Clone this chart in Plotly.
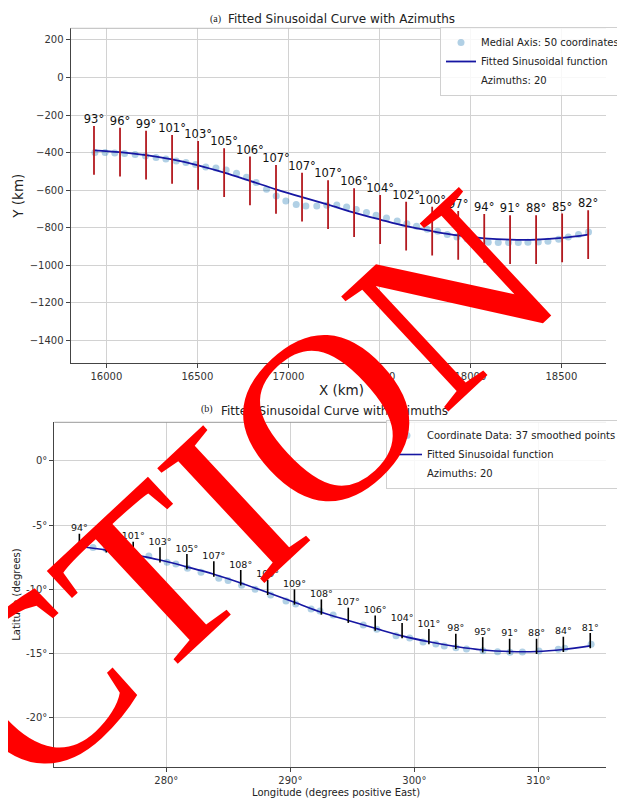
import plotly.graph_objects as go

# ---------------- Panel (a) data ----------------
top_dot_x = [15937, 15993, 16046, 16100, 16158, 16215, 16273, 16327, 16384, 16437,
             16490, 16546, 16602, 16658, 16715, 16770, 16823, 16880, 16933, 16986,
             17043, 17096, 17156, 17211, 17266, 17320, 17373, 17429, 17482, 17539,
             17598, 17651, 17704, 17763, 17820, 17873, 17926, 17982, 18041, 18098,
             18153, 18210, 18263, 18316, 18373, 18426, 18485, 18538, 18594, 18649]
top_dot_y = [-400, -400, -402, -405, -411, -418, -427, -434, -445, -453,
             -464, -477, -482, -493, -510, -532, -560, -596, -631, -658,
             -677, -685, -685, -681, -679, -690, -704, -720, -734, -749,
             -765, -779, -793, -809, -820, -837, -850, -861, -868, -878,
             -880, -880, -880, -878, -877, -873, -862, -850, -837, -823]
top_az_x = [15932, 16075, 16218, 16361, 16504, 16647, 16789, 16932, 17075, 17218,
            17361, 17504, 17647, 17790, 17933, 18076, 18218, 18361, 18504, 18647]
top_curve_y = [-388, -398, -414, -437, -468, -507, -551, -596, -638, -678,
               -720, -757, -792, -819, -842, -857, -864, -864, -855, -837]
top_az_deg = [93, 96, 99, 101, 103, 105, 106, 107, 107, 107,
              106, 104, 102, 100, 97, 94, 91, 88, 85, 82]
top_xticks = [16000, 16500, 17000, 17500, 18000, 18500]
top_xtick_text = ["16000", "16500", "17000", "17500", "18000", "18500"]
top_yticks = [-1400, -1200, -1000, -800, -600, -400, -200, 0, 200]
top_ytick_text = ["\u22121400", "\u22121200", "\u22121000", "\u2212800", "\u2212600",
                  "\u2212400", "\u2212200", "0", "200"]

# ---------------- Panel (b) data ----------------
bot_dot_lon = [272.99, 274.09, 275.17, 276.27, 277.45, 278.59, 280.06, 280.77, 281.71, 282.80,
               284.23, 284.98, 286.07, 287.16, 288.41, 289.65, 290.43, 291.67, 292.39, 293.45,
               295.88, 296.97, 298.52, 299.62, 300.70, 301.73, 302.41, 303.35, 304.20, 305.53,
               306.71, 307.71, 308.71, 310.05, 311.60, 312.13, 314.25]
bot_dot_lat = [-6.67, -6.75, -6.85, -7.01, -7.19, -7.40, -7.89, -8.02, -8.36, -8.67,
               -9.14, -9.32, -9.68, -9.99, -10.44, -10.90, -11.14, -11.53, -11.68, -11.99,
               -12.77, -13.11, -13.61, -13.79, -14.10, -14.25, -14.41, -14.54, -14.64, -14.77,
               -14.85, -14.90, -14.88, -14.80, -14.67, -14.59, -14.28]
bot_az_lon = [272.99, 275.16, 277.33, 279.49, 281.66, 283.83, 286.00, 288.17, 290.33, 292.50,
              294.67, 296.84, 299.01, 301.17, 303.34, 305.51, 307.68, 309.85, 312.01, 314.18]
bot_curve_lat = [-6.67, -6.95, -7.30, -7.72, -8.25, -8.82, -9.50, -10.25, -11.00, -11.78,
                 -12.42, -13.03, -13.62, -14.08, -14.45, -14.72, -14.84, -14.84, -14.68, -14.40]
bot_az_deg = [94, 98, 101, 103, 105, 107, 108, 109, 109, 108,
              107, 106, 104, 101, 98, 95, 91, 88, 84, 81]
bot_xticks = [280, 290, 300, 310]
bot_xtick_text = ["280\u00b0", "290\u00b0", "300\u00b0", "310\u00b0"]
bot_yticks = [-20, -15, -10, -5, 0]
bot_ytick_text = ["-20\u00b0", "-15\u00b0", "-10\u00b0", "-5\u00b0", "0\u00b0"]

# ---------------- styles ----------------
FONT = "DejaVu Sans"
DOT_COLOR = "rgba(31,119,180,0.35)"
CURVE_COLOR = "#1616a2"
TOP_HALF = 130      # half length of azimuth bars in panel (a), km
BOT_UP, BOT_DOWN = 1.0, 0.19   # azimuth bar extent in panel (b), degrees

fig = go.Figure()

# Panel (a)
fig.add_trace(go.Scatter(x=top_dot_x, y=top_dot_y, mode="markers",
                         marker=dict(size=7, color=DOT_COLOR),
                         name="Medial Axis: 50 coordinates", xaxis="x", yaxis="y",
                         legend="legend"))
fig.add_trace(go.Scatter(x=top_az_x, y=top_curve_y, mode="lines",
                         line=dict(color=CURVE_COLOR, width=1.8, shape="spline"),
                         name="Fitted Sinusoidal function", xaxis="x", yaxis="y",
                         legend="legend"))
fig.add_trace(go.Scatter(x=[None], y=[None], mode="lines",
                         line=dict(color="rgba(0,0,0,0)", width=1),
                         name="Azimuths: 20", xaxis="x", yaxis="y", legend="legend"))
bx, by = [], []
for xv, cv in zip(top_az_x, top_curve_y):
    bx += [xv, xv, None]
    by += [cv - TOP_HALF, cv + TOP_HALF, None]
fig.add_trace(go.Scatter(x=bx, y=by, mode="lines", line=dict(color="#b3191f", width=1.8),
                         showlegend=False, xaxis="x", yaxis="y", hoverinfo="skip"))
fig.add_trace(go.Scatter(x=top_az_x, y=[c + TOP_HALF for c in top_curve_y], mode="text",
                         text=[f"{a}\u00b0" for a in top_az_deg], textposition="top center",
                         textfont=dict(size=11.5, color="#111", family=FONT),
                         showlegend=False, xaxis="x", yaxis="y", hoverinfo="skip"))

# Panel (b)
fig.add_trace(go.Scatter(x=bot_dot_lon, y=bot_dot_lat, mode="markers",
                         marker=dict(size=7, color=DOT_COLOR),
                         name="Coordinate Data: 37 smoothed points", xaxis="x2", yaxis="y2",
                         legend="legend2"))
fig.add_trace(go.Scatter(x=bot_az_lon, y=bot_curve_lat, mode="lines",
                         line=dict(color=CURVE_COLOR, width=1.6, shape="spline"),
                         name="Fitted Sinusoidal function", xaxis="x2", yaxis="y2",
                         legend="legend2"))
fig.add_trace(go.Scatter(x=[None], y=[None], mode="lines",
                         line=dict(color="rgba(0,0,0,0)", width=1),
                         name="Azimuths: 20", xaxis="x2", yaxis="y2", legend="legend2"))
bx, by = [], []
for xv, cv in zip(bot_az_lon, bot_curve_lat):
    bx += [xv, xv, None]
    by += [cv - BOT_DOWN, cv + BOT_UP, None]
fig.add_trace(go.Scatter(x=bx, y=by, mode="lines", line=dict(color="#000", width=1.6),
                         showlegend=False, xaxis="x2", yaxis="y2", hoverinfo="skip"))
fig.add_trace(go.Scatter(x=bot_az_lon, y=[c + BOT_UP for c in bot_curve_lat], mode="text",
                         text=[f"{a}\u00b0" for a in bot_az_deg], textposition="top center",
                         textfont=dict(size=9.5, color="#111", family=FONT),
                         showlegend=False, xaxis="x2", yaxis="y2", hoverinfo="skip"))

# The page body has an 8px margin; the figure is sized so it ends at the window edge.
OFF = 8
W, H = 625 - OFF, 799 - OFF
def px(x): return (x - OFF) / W
def py(y): return 1 - (y - OFF) / H

axis_common = dict(showgrid=True, gridcolor="#d2d2d2", gridwidth=1, zeroline=False,
                   showline=True, linecolor="#444", linewidth=1, ticks="outside",
                   ticklen=4, tickcolor="#444", tickfont=dict(size=10, color="#333", family=FONT))

fig.update_layout(
    width=W, height=H, margin=dict(l=0, r=0, t=0, b=0),
    paper_bgcolor="white", plot_bgcolor="white",
    font=dict(family=FONT, color="#222"),
    showlegend=True, hovermode=False,
    xaxis=dict(domain=[px(72.5), 1], range=[15803, 18745], anchor="y",
               tickvals=top_xticks, ticktext=top_xtick_text, **axis_common),
    yaxis=dict(domain=[py(362.7), py(28.3)], range=[-1520, 262], anchor="x",
               tickvals=top_yticks, ticktext=top_ytick_text, **axis_common),
    xaxis2=dict(domain=[px(55.8), 1], range=[270.97, 315.45], anchor="y2",
                tickvals=bot_xticks, ticktext=bot_xtick_text, **axis_common),
    yaxis2=dict(domain=[py(766.7), py(422.3)], range=[-23.8, 3.0], anchor="x2",
                tickvals=bot_yticks, ticktext=bot_ytick_text, **axis_common),
    legend=dict(x=px(454), y=py(27), xanchor="left", yanchor="top",
                bgcolor="rgba(255,255,255,0.85)", bordercolor="#d0d0d0", borderwidth=1,
                font=dict(size=10, color="#222", family=FONT), tracegroupgap=0),
    legend2=dict(x=px(398), y=py(420), xanchor="left", yanchor="top",
                 bgcolor="rgba(255,255,255,0.85)", bordercolor="#d0d0d0", borderwidth=1,
                 font=dict(size=10, color="#222", family=FONT), tracegroupgap=0),
    shapes=[
        dict(type="line", xref="x domain", yref="y domain", x0=0, x1=1, y0=1, y1=1,
             line=dict(color="#bbbbbb", width=1)),
        dict(type="line", xref="x2 domain", yref="y2 domain", x0=0, x1=1, y0=1, y1=1,
             line=dict(color="#999999", width=1)),
    ],
)

ann = [
    dict(text="Fitted Sinusoidal Curve with Azimuths", x=px(352), y=py(18.5),
         font=dict(size=12, color="#222", family=FONT)),
    dict(text="(a)", x=px(222), y=py(19.5), font=dict(size=10, color="#222", family="Liberation Serif")),
    dict(text="X (km)", x=px(352), y=py(390), font=dict(size=13.5, color="#222", family=FONT)),
    dict(text="Y (km)", x=px(18), y=py(196), textangle=-90, font=dict(size=13.5, color="#222", family=FONT)),
    dict(text="Fitted Sinusoidal Curve with Azimuths", x=px(345), y=py(411.5),
         font=dict(size=12, color="#222", family=FONT)),
    dict(text="(b)", x=px(213), y=py(408.5), font=dict(size=10, color="#222", family="Liberation Serif")),
    dict(text="Longitude (degrees positive East)", x=px(346), y=py(792),
         font=dict(size=10, color="#222", family=FONT)),
    dict(text="Latitude (degrees)", x=px(16), y=py(595), textangle=-90,
         font=dict(size=10, color="#222", family=FONT)),
    dict(text="CTION", x=px(254), y=py(489), textangle=-43,
         font=dict(size=240, color="#ff0000", family="Liberation Serif")),
]
for a in ann:
    a.update(xref="paper", yref="paper", showarrow=False, xanchor="center", yanchor="middle")
fig.update_layout(annotations=ann)

fig.write_html("out.html", config={"displayModeBar": False})
